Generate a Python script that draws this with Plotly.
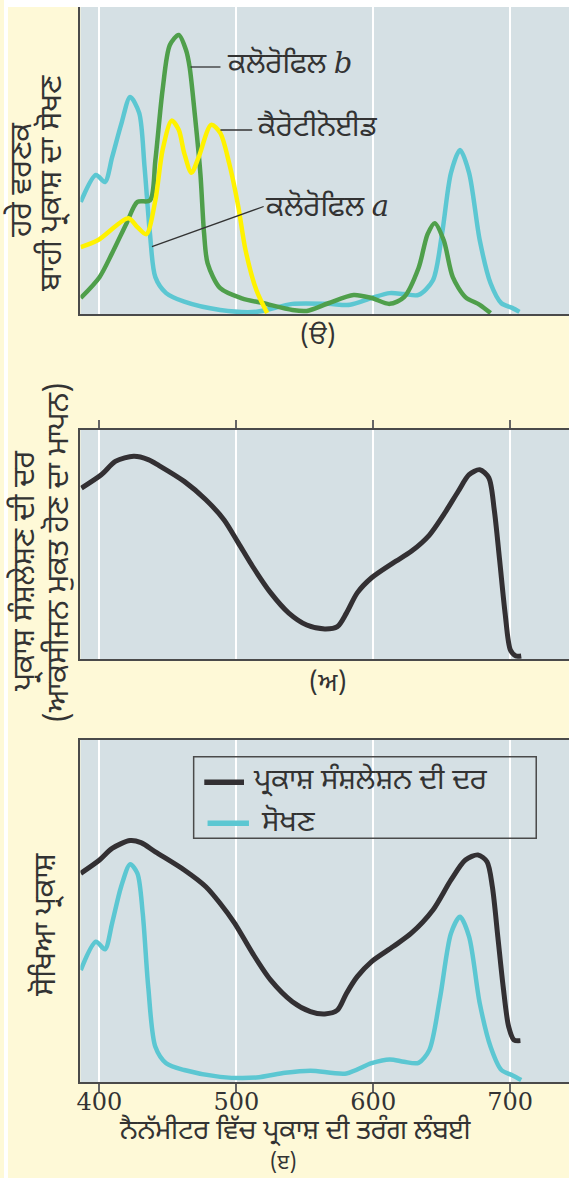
import plotly.graph_objects as go

# ---------------- data ----------------
# Panel (ੳ): absorption spectra of pigments (relative units 0-100)
chl_a_nm = [386.3, 397.4, 404.0, 409.2, 416.0, 422.4, 429.0, 432.9, 436.9, 440.8, 448.7, 461.9, 488.2, 514.6,
            540.9, 567.2, 583.0, 598.8, 612.0, 622.5, 633.1, 643.6, 650.2, 656.8, 663.4, 670.0, 677.8, 685.7,
            693.6, 701.5, 706.8]
chl_a_val = [36.5, 45.3, 43.0, 51.0, 62.0, 70.7, 65.5, 48.0, 26.0, 12.0, 6.8, 4.0, 1.3, 0.7,
             3.3, 3.3, 3.0, 5.2, 6.8, 6.5, 6.2, 11.0, 26.0, 46.0, 53.4, 46.0, 24.0, 10.0,
             3.5, 2.0, 0.7]

chl_b_nm = [386.3, 400.0, 409.2, 419.8, 427.7, 436.9, 440.8, 446.1, 451.4, 457.9, 463.2, 465.8, 469.8, 473.7,
            476.4, 479.0, 488.2, 504.0, 519.8, 540.9, 551.4, 567.2, 585.7, 598.8, 612.0, 622.5, 633.1,
            639.7, 644.9, 651.5, 658.1, 667.3, 677.8, 685.7]
chl_b_val = [5.2, 12.0, 19.8, 29.6, 36.5, 37.0, 50.0, 73.0, 87.6, 90.9, 86.0, 80.6, 64.3, 45.8,
             26.3, 16.5, 8.4, 5.1, 3.5, 1.3, 1.0, 3.5, 6.2, 5.2, 3.3, 5.5, 15.0,
             26.0, 29.6, 24.0, 12.0, 5.5, 3.0, 0.3]

carot_nm = [386.3, 398.7, 421.1, 427.7, 434.2, 440.8, 446.1, 452.7, 457.9, 461.9, 467.2, 472.4, 481.6,
            488.2, 494.8, 501.4, 506.7, 514.6, 522.5]
carot_val = [21.8, 24.0, 31.2, 28.3, 26.0, 37.0, 53.4, 63.0, 60.0, 52.4, 46.0, 51.0, 61.6,
             59.0, 49.0, 35.0, 20.8, 7.8, 0.3]

# Panel (ਅ): rate of photosynthesis (action spectrum)
rate_nm = [386.8, 401.3, 411.9, 425.0, 435.6, 443.5, 461.9, 477.7, 490.9, 501.4, 511.9, 525.1, 538.3,
           551.4, 564.6, 573.8, 580.4, 588.3, 598.8, 614.6, 627.8, 641.0, 651.5, 662.0, 670.0, 677.8,
           684.4, 688.4, 692.3, 696.3, 700.2, 704.2, 708.1]
rate_val = [74.5, 80.3, 86.2, 88.3, 86.9, 84.3, 77.4, 69.4, 60.7, 50.6, 40.3, 28.8, 20.0,
            14.8, 13.1, 14.1, 20.0, 28.8, 35.4, 41.9, 46.9, 54.0, 62.9, 73.0, 80.3, 82.5,
            79.0, 65.0, 43.2, 20.0, 3.9, 1.3, 1.3]

# Panel (ੲ): rate of photosynthesis vs absorption
rate3_nm = [386.3, 400.0, 409.2, 422.4, 430.3, 440.8, 461.9, 477.7, 488.2, 498.8, 511.9, 525.1, 540.9,
            554.1, 564.6, 573.8, 580.4, 588.3, 598.8, 614.6, 627.8, 643.6, 656.8, 667.3, 676.5, 683.1,
            687.0, 691.0, 694.9, 698.9, 702.8, 707.5]
rate3_val = [61.0, 64.9, 68.3, 70.6, 70.0, 67.3, 62.0, 57.1, 52.2, 46.4, 37.6, 29.8, 23.5,
             20.6, 19.9, 21.0, 25.9, 30.8, 35.2, 39.6, 43.5, 50.3, 59.1, 64.9, 66.4, 64.4,
             57.1, 42.5, 27.9, 16.2, 12.3, 12.1]

abs3_nm = [386.3, 397.4, 404.0, 409.2, 415.8, 422.4, 427.7, 431.6, 435.6, 440.8, 448.7, 461.9, 488.2,
           514.6, 535.6, 554.1, 580.4, 598.8, 612.0, 622.5, 633.1, 641.0, 648.9, 656.8, 663.4, 670.0,
           677.8, 685.7, 693.6, 701.5, 708.1]
abs3_val = [32.7, 41.0, 38.8, 46.4, 57.1, 63.7, 61.0, 49.3, 27.9, 10.3, 5.5, 3.5, 1.5,
            1.3, 2.7, 3.3, 2.5, 5.5, 6.6, 5.9, 5.6, 9.4, 24.9, 43.5, 48.3, 42.5,
            23.0, 10.3, 3.5, 2.0, 0.6]

tick_vals = [400, 500, 600, 700]
tick_text = ["400", "500", "600", "700"]

# ---------------- styling ----------------
W, H = 569, 1178
CREAM = "#fef9d7"
PLOTBG = "#d5e0e4"
AXIS = "#4a4a4a"
TXT = "#333333"
CYAN = "#5cc7d2"
GREEN = "#4f9f4b"
YELLOW = "#fff200"
BLACK = "#333033"
GUR = "Noto Sans Gurmukhi, Lohit Gurmukhi, Noto Sans, sans-serif"
SERIF = "DejaVu Serif, serif"

def px(x):
    return x / W

def py(y):
    return 1 - y / H

XR = [386.1, 743.0]
XDOM = [px(77), 1.0]

fig = go.Figure()

def add(nm, val, color, ax, width=4.5):
    fig.add_trace(go.Scatter(x=nm, y=val, mode="lines", line=dict(color=color, width=width, shape="spline", smoothing=0.8),
                             xaxis="x" + ax, yaxis="y" + ax, showlegend=False, hoverinfo="skip"))

add(chl_a_nm, chl_a_val, CYAN, "")
add(chl_b_nm, chl_b_val, GREEN, "")
add(carot_nm, carot_val, YELLOW, "")
add(rate_nm, rate_val, BLACK, "2", 5)
add(abs3_nm, abs3_val, CYAN, "3")
add(rate3_nm, rate3_val, BLACK, "3", 5)

xbase = dict(range=XR, domain=XDOM, showgrid=True, gridcolor="#ffffff", gridwidth=1.5,
             tickvals=tick_vals, ticktext=tick_text, showline=True, linecolor=AXIS, linewidth=2,
             mirror=True, zeroline=False, fixedrange=True)
ybase = dict(range=[0, 100], showgrid=False, showticklabels=False, ticks="", showline=True,
             linecolor=AXIS, linewidth=2, zeroline=False, fixedrange=True)

fig.update_layout(
    width=W, height=H, margin=dict(l=0, r=0, t=0, b=0),
    paper_bgcolor=CREAM, plot_bgcolor=PLOTBG, showlegend=False,
    xaxis=dict(xbase, anchor="y", showticklabels=False, ticks=""),
    yaxis=dict(ybase, domain=[py(314), py(7)], anchor="x"),
    xaxis2=dict(xbase, anchor="y2", side="top", showticklabels=False, ticks="outside", ticklen=8,
                tickwidth=2, tickcolor="#666666"),
    yaxis2=dict(ybase, domain=[py(659), py(429.5)], anchor="x2"),
    xaxis3=dict(xbase, anchor="y3", ticks="outside", ticklen=8, tickwidth=2, tickcolor="#666666",
                showticklabels=True, ticklabelstandoff=-11,
                tickfont=dict(family=SERIF, size=24, color=TXT)),
    yaxis3=dict(ybase, domain=[py(1082), py(740)], anchor="x3"),
)

shapes = []
# white outer margin bands
shapes.append(dict(type="rect", xref="paper", yref="paper", x0=0, x1=1, y0=py(7), y1=1,
                   fillcolor="#ffffff", line=dict(width=0), layer="above"))
shapes.append(dict(type="rect", xref="paper", yref="paper", x0=0, x1=px(4), y0=0, y1=1,
                   fillcolor="#ffffff", line=dict(width=0), layer="above"))
# leader lines panel 1
for (x0, y0, x1, y1) in [(188, 67, 218, 67), (218, 130, 250, 130), (149, 246.7, 261.5, 206.5)]:
    shapes.append(dict(type="line", xref="paper", yref="paper", x0=px(x0), y0=py(y0), x1=px(x1), y1=py(y1),
                       line=dict(color=TXT, width=1.3)))
# manual legend panel 3
shapes.append(dict(type="rect", xref="paper", yref="paper", x0=px(191), x1=px(536), y0=py(838.3), y1=py(756.7),
                   line=dict(color=AXIS, width=1.5), fillcolor="rgba(0,0,0,0)"))
shapes.append(dict(type="line", xref="paper", yref="paper", x0=px(201.7), x1=px(241.7), y0=py(782.3), y1=py(782.3),
                   line=dict(color=BLACK, width=5.5)))
shapes.append(dict(type="line", xref="paper", yref="paper", x0=px(205), x1=px(246.7), y0=py(823.3), y1=py(823.3),
                   line=dict(color=CYAN, width=5.5)))
fig.update_layout(shapes=shapes)

ann = []
def txt(x, y, s, size=22, xanchor="center", angle=0, family=GUR):
    ann.append(dict(x=px(x), y=py(y), xref="paper", yref="paper", text=s, showarrow=False,
                    xanchor=xanchor, yanchor="middle", textangle=angle,
                    font=dict(family=family, size=size, color=TXT)))

ital = "<i><span style='font-family:DejaVu Serif'>%s</span></i>"
txt(223, 66, "ਕਲੋਰੋਫਿਲ " + ital % "b", 29, "left")
txt(253, 129, "ਕੈਰੋਟੀਨੋਈਡ", 29, "left")
txt(261, 208, "ਕਲੋਰੋਫਿਲ " + ital % "a", 29, "left")
# y titles
txt(19, 180, "ਹਰੇ ਵਰਣਕ", 30, angle=-90)
txt(49, 183, "ਬਾਹੀ ਪ੍ਰਕਾਸ਼ ਦਾ ਸੋਖਣ", 30, angle=-90)
txt(22, 571, "ਪ੍ਰਕਾਸ਼ ਸੰਸ਼ਲੇਸ਼ਣ ਦੀ ਦਰ", 30, angle=-90)
txt(56, 553, "(ਆਕਸੀਜਨ ਮੁਕਤ ਹੋਣ ਦਾ ਮਾਪਨ)", 30, angle=-90)
txt(43, 925, "ਸੋਖਿਆ ਪ੍ਰਕਾਸ਼", 30, angle=-90)
# panel labels
txt(316, 338, "(ੳ)", 26)
txt(326, 685, "(ਅ)", 26)
txt(281, 1163.5, "(ੲ)", 21)
# x title
txt(294, 1132, "ਨੈਨੱਮੀਟਰ ਵਿੱਚ ਪ੍ਰਕਾਸ਼ ਦੀ ਤਰੰਗ ਲੰਬਈ", 27)
# legend texts
txt(249, 782, "ਪ੍ਰਕਾਸ਼ ਸੰਸ਼ਲੇਸ਼ਨ ਦੀ ਦਰ", 29, "left")
txt(257, 823, "ਸੋਖਣ", 29, "left")
fig.update_layout(annotations=ann)

fig.write_html("out.html", config={"displayModeBar": False},
               post_script="document.body.style.margin='0';")
